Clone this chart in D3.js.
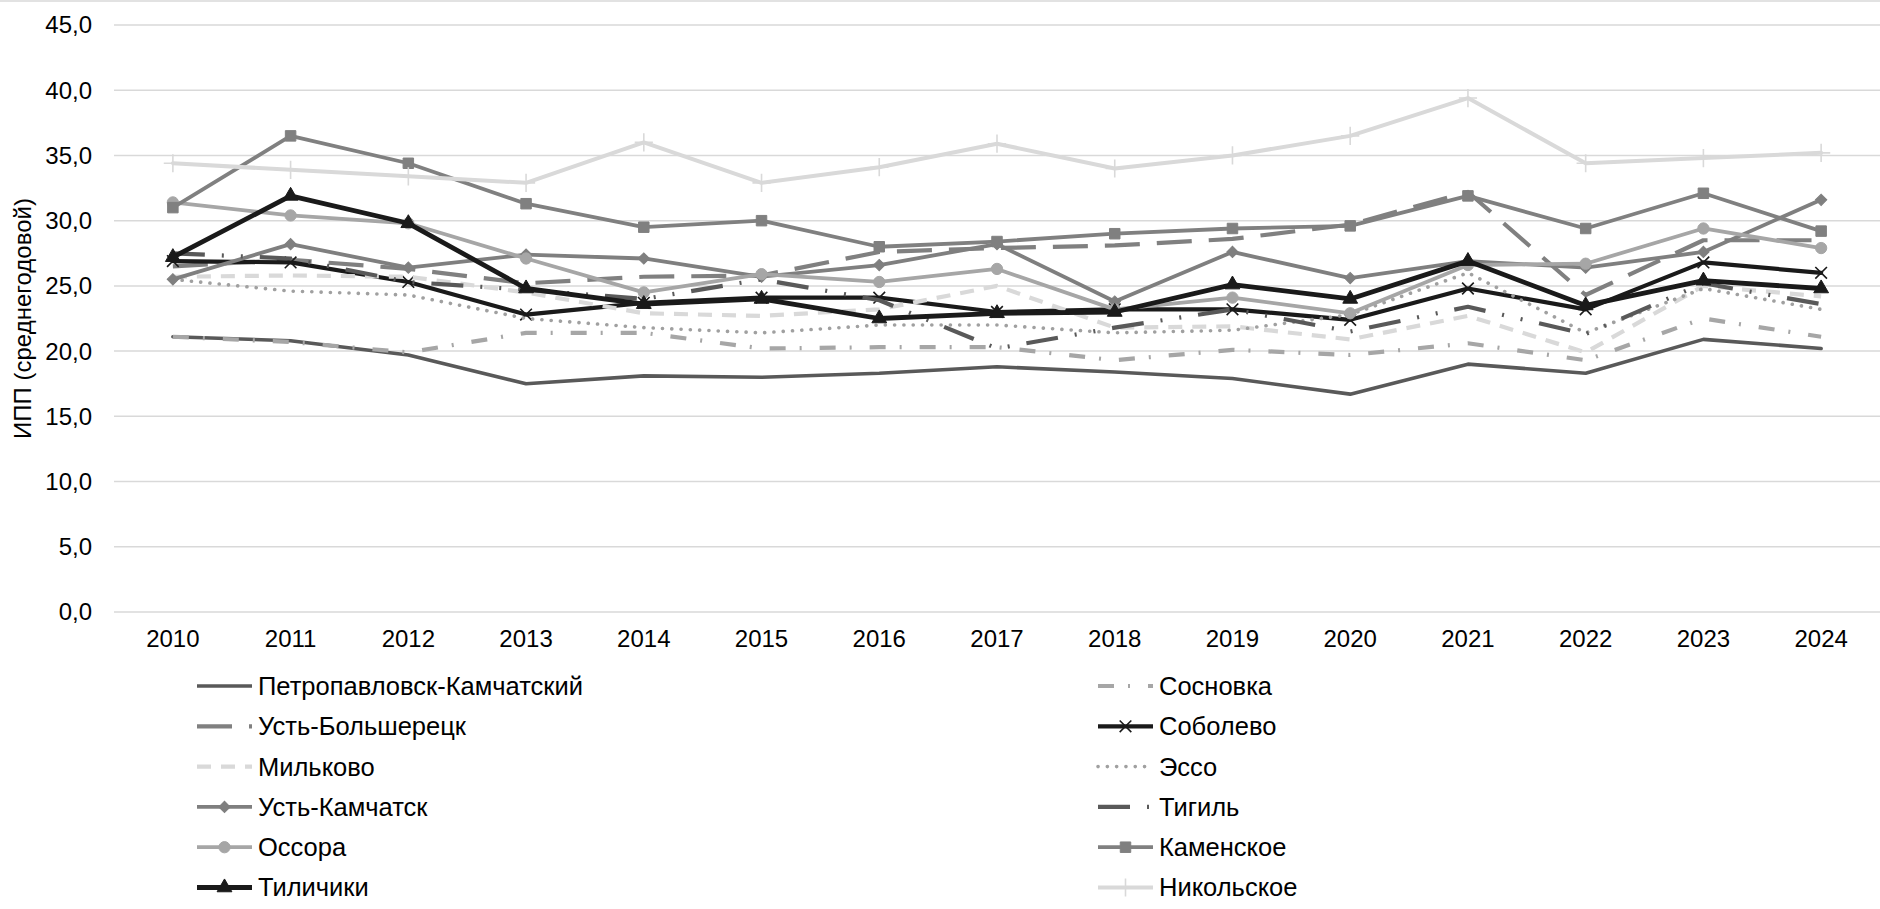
<!DOCTYPE html>
<html>
<head>
<meta charset="utf-8">
<script src="https://cdn.jsdelivr.net/npm/d3@7"></script>
<style>
  body { margin: 0; background: #fff; }
  text { font-family: "Liberation Sans", Arial, sans-serif; fill: #000; }
</style>
</head>
<body>
<svg id="chart" width="1880" height="909"></svg>
<script>
// ---- data ----
const years = ["2010", "2011", "2012", "2013", "2014", "2015", "2016", "2017",
               "2018", "2019", "2020", "2021", "2022", "2023", "2024"]

const yTickValues = [0, 5, 10, 15, 20, 25, 30, 35, 40, 45]

const seriesNames = ["Петропавловск-Камчатский", "Сосновка", "Усть-Большерецк", "Соболево",
                     "Мильково", "Эссо", "Усть-Камчатск", "Тигиль",
                     "Оссора", "Каменское", "Тиличики", "Никольское"]

const petropavlovsk = [21.1, 20.8, 19.7, 17.5, 18.1, 18.0, 18.3, 18.8, 18.4, 17.9, 16.7, 19.0, 18.3, 20.9, 20.2]
const sosnovka      = [21.1, 20.7, 19.9, 21.4, 21.4, 20.2, 20.3, 20.3, 19.3, 20.1, 19.7, 20.6, 19.3, 22.5, 21.1]
const ustBolsheretsk = [26.5, 27.0, 26.3, 25.2, 25.7, 25.8, 27.6, 27.9, 28.1, 28.6, 29.7, 32.2, 24.3, 28.5, 28.5]
const sobolevo      = [26.9, 26.8, 25.3, 22.8, 23.7, 24.1, 24.1, 23.0, 23.2, 23.2, 22.4, 24.8, 23.2, 26.8, 26.0]
const milkovo       = [25.7, 25.8, 25.7, 24.5, 22.9, 22.7, 23.2, 25.0, 21.8, 21.9, 20.9, 22.7, 19.9, 25.0, 24.2]
const esso          = [25.5, 24.6, 24.3, 22.5, 21.8, 21.4, 22.0, 22.0, 21.4, 21.6, 22.8, 26.0, 21.4, 24.8, 23.2]
const ustKamchatsk  = [25.5, 28.2, 26.4, 27.4, 27.1, 25.7, 26.6, 28.2, 23.8, 27.6, 25.6, 26.9, 26.4, 27.6, 31.6]
const tigil         = [27.5, 27.1, 25.3, 24.7, 24.0, 25.5, 23.9, 20.2, 21.8, 23.2, 21.5, 23.4, 21.3, 25.2, 23.6]
const ossora        = [31.4, 30.4, 29.8, 27.1, 24.5, 25.9, 25.3, 26.3, 23.2, 24.1, 22.9, 26.6, 26.7, 29.4, 27.9]
const kamenskoe     = [31.0, 36.5, 34.4, 31.3, 29.5, 30.0, 28.0, 28.4, 29.0, 29.4, 29.6, 31.9, 29.4, 32.1, 29.2]
const tilichiki     = [27.2, 31.9, 29.8, 24.8, 23.6, 24.0, 22.5, 22.9, 23.0, 25.1, 24.0, 26.9, 23.5, 25.4, 24.8]
const nikolskoe     = [34.4, 33.9, 33.4, 32.9, 36.0, 32.9, 34.1, 35.9, 34.0, 35.0, 36.5, 39.4, 34.4, 34.8, 35.2]

const seriesValues = [petropavlovsk, sosnovka, ustBolsheretsk, sobolevo, milkovo, esso,
                      ustKamchatsk, tigil, ossora, kamenskoe, tilichiki, nikolskoe]

const axisTitle = "ИПП (среднегодовой)"

// ---- look of each series (grayscale, like the original) ----
const styles = [
  { color: '#595959', width: 3.6, dash: null },                                  // Петропавловск
  { color: '#a6a6a6', width: 4.2, dash: '16,14,2,18', cap: 'butt' },             // Сосновка
  { color: '#808080', width: 4.2, dash: '35,17', cap: 'butt' },                  // Усть-Большерецк
  { color: '#1a1a1a', width: 4.2, dash: null, marker: 'x' },                     // Соболево
  { color: '#d9d9d9', width: 4.2, dash: '14,10', cap: 'butt' },                  // Мильково
  { color: '#a0a0a0', width: 3.6, dash: '0.1,9.2', cap: 'round' },               // Эссо
  { color: '#7f7f7f', width: 3.8, dash: null, marker: 'diamond' },               // Усть-Камчатск
  { color: '#595959', width: 4.2, dash: '32,17,2,17,2,17', cap: 'butt' },        // Тигиль
  { color: '#a6a6a6', width: 3.8, dash: null, marker: 'circle' },                // Оссора
  { color: '#808080', width: 3.8, dash: null, marker: 'square' },                // Каменское
  { color: '#1a1a1a', width: 4.8, dash: null, marker: 'triangle' },              // Тиличики
  { color: '#d9d9d9', width: 4.0, dash: null, marker: 'plus' }                   // Никольское
]

const W = 1880, H = 909
const svg = d3.select('#chart')

const x = d3.scaleBand().domain(years).range([114, 1880])
const y = d3.scaleLinear().domain([0, 45]).range([612, 25])
const cx = d => x(d) + x.bandwidth() / 2
const fmt = v => d3.format('.1f')(v).replace('.', ',')

// chart border (top edge is the only visible part)
svg.append('line')
  .attr('x1', 0).attr('x2', W).attr('y1', 1).attr('y2', 1)
  .attr('stroke', '#d9d9d9').attr('stroke-width', 1.5)

// gridlines
svg.append('g').selectAll('line')
  .data(yTickValues)
  .join('line')
  .attr('x1', 114).attr('x2', W)
  .attr('y1', d => y(d)).attr('y2', d => y(d))
  .attr('stroke', '#d9d9d9').attr('stroke-width', 1.5)

// y tick labels
svg.append('g').selectAll('text')
  .data(yTickValues)
  .join('text')
  .attr('x', 92).attr('y', d => y(d))
  .attr('dy', '0.35em')
  .attr('text-anchor', 'end')
  .style('font-size', '24px')
  .text(fmt)

// x tick labels
svg.append('g').selectAll('text')
  .data(years)
  .join('text')
  .attr('x', d => cx(d)).attr('y', 639)
  .attr('dy', '0.35em')
  .attr('text-anchor', 'middle')
  .style('font-size', '24px')
  .text(d => d)

// axis title
svg.append('text')
  .attr('transform', `translate(23, ${(y(0) + y(45)) / 2}) rotate(-90)`)
  .attr('dy', '0.35em')
  .attr('text-anchor', 'middle')
  .style('font-size', '24px')
  .text(axisTitle)

const symbolFor = {
  square: d3.symbolSquare,
  circle: d3.symbolCircle,
  triangle: d3.symbolTriangle,
  diamond: d3.symbolSquare,
  x: d3.symbolTimes || d3.symbolCross,
  plus: d3.symbolPlus || d3.symbolCross
}
const sizeFor = { square: 110, circle: 100, triangle: 95, diamond: 64, x: 90, plus: 110 }

const drawMarker = (g, type, color, px, py) => {
  const stroked = type === 'x' || type === 'plus'
  g.append('path')
    .attr('d', d3.symbol().type(symbolFor[type]).size(sizeFor[type])())
    .attr('transform', `translate(${px},${py})` + (type === 'diamond' ? ' rotate(45)' : ''))
    .attr('fill', stroked ? 'none' : color)
    .attr('stroke', color)
    .attr('stroke-width', stroked ? 1.6 : 1)
}

const line = d3.line()
  .x(d => cx(d.year))
  .y(d => y(d.value))

const plot = svg.append('g')

seriesNames.forEach((name, i) => {
  const st = styles[i]
  const pts = years.map((yr, j) => ({ year: yr, value: seriesValues[i][j] }))
  plot.append('path')
    .datum(pts)
    .attr('d', line)
    .attr('fill', 'none')
    .attr('stroke', st.color)
    .attr('stroke-width', st.width)
    .attr('stroke-linejoin', 'round')
    .attr('stroke-linecap', st.cap || 'round')
    .attr('stroke-dasharray', st.dash)
  if (st.marker) {
    const mg = plot.append('g')
    pts.forEach(p => drawMarker(mg, st.marker, st.color, cx(p.year), y(p.value)))
  }
})

// legend: two columns, row-major order
const legendX = [197, 1098]
const legendY0 = 686, legendDy = 40.3, sampleLen = 55

const legend = svg.append('g')
seriesNames.forEach((name, i) => {
  const st = styles[i]
  const lx = legendX[i % 2]
  const ly = legendY0 + Math.floor(i / 2) * legendDy
  legend.append('line')
    .attr('x1', lx).attr('x2', lx + sampleLen)
    .attr('y1', ly).attr('y2', ly)
    .attr('stroke', st.color)
    .attr('stroke-width', st.width)
    .attr('stroke-linecap', st.cap || 'butt')
    .attr('stroke-dasharray', st.dash)
  if (st.marker) drawMarker(legend, st.marker, st.color, lx + sampleLen / 2, ly)
  legend.append('text')
    .attr('x', lx + sampleLen + 6).attr('y', ly)
    .attr('dy', '0.35em')
    .style('font-size', '25.5px')
    .text(name)
})
</script>
</body>
</html>
